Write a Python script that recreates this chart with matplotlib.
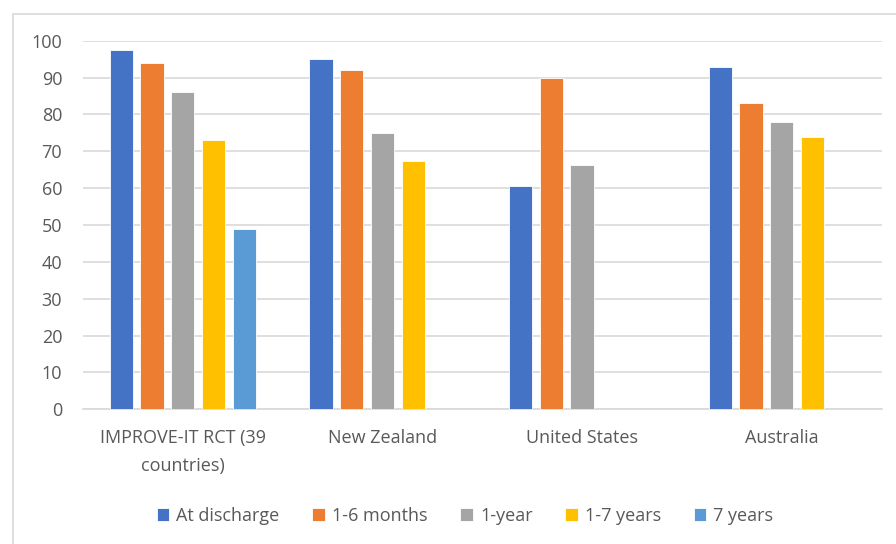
import matplotlib.pyplot as plt
import numpy as np
from matplotlib.patches import Rectangle

plt.rcParams['font.family'] = ['Open Sans', 'DejaVu Sans']

# Adesão por local de estudo
sites = ['IMPROVE-IT RCT (39\ncountries)', 'New Zealand', 'United States', 'Australia']
series = ['At discharge', '1-6 months', '1-year', '1-7 years', '7 years']
colors = ['#4472C4', '#ED7D31', '#A5A5A5', '#FFC000', '#5B9BD5']

at_discharge = [97.6, 95.0, 60.7, 92.8]
months_1_6 = [94.0, 92.0, 90.0, 83.0]
one_year = [86.0, 75.0, 66.4, 78.0]
years_1_7 = [73.0, 67.3, np.nan, 74.0]
years_7 = [49.0, np.nan, np.nan, np.nan]
values = [at_discharge, months_1_6, one_year, years_1_7, years_7]

fig = plt.figure(figsize=(8.96, 5.44), dpi=100)
ax = fig.add_axes([83 / 896, 1 - 409.3 / 544, (881.5 - 83) / 896, (409.3 - 40.7) / 544])

# moldura clara em volta do gráfico
fig.patches.append(Rectangle((12.5 / 896, -0.01), 1.0, 1 - 13.5 / 544 + 0.01,
                             transform=fig.transFigure, fill=False,
                             edgecolor='#D9D9D9', linewidth=1.2))

x = np.arange(len(sites))
pitch = 0.154
width = 0.117
for i, (name, vals, c) in enumerate(zip(series, values, colors)):
    ax.bar(x + (i - 2) * pitch, vals, width, color=c, label=name,
           edgecolor='white', linewidth=0.6, zorder=3)

ax.set_xlim(-0.5, 3.5)
ax.set_ylim(0, 100)
ax.set_yticks(range(0, 101, 10))
ax.grid(axis='y', color='#D9D9D9', linewidth=1.2, zorder=0)
for s in ['top', 'right', 'left']:
    ax.spines[s].set_visible(False)
ax.spines['bottom'].set_color('#D9D9D9')
ax.spines['bottom'].set_linewidth(1.2)
ax.tick_params(length=0, colors='#595959', labelsize=13)
ax.tick_params(axis='y', pad=15)
ax.tick_params(axis='x', pad=14)
ax.set_xticks(x)
ax.set_xticklabels(sites, linespacing=1.75)

fig.legend(loc='center', bbox_to_anchor=(465 / 896, 1 - 516 / 544), ncol=5,
           frameon=False, fontsize=13, labelcolor='#595959',
           handlelength=0.7, handleheight=0.7, handletextpad=0.4, columnspacing=1.8)

plt.savefig('out.png', dpi=100)
